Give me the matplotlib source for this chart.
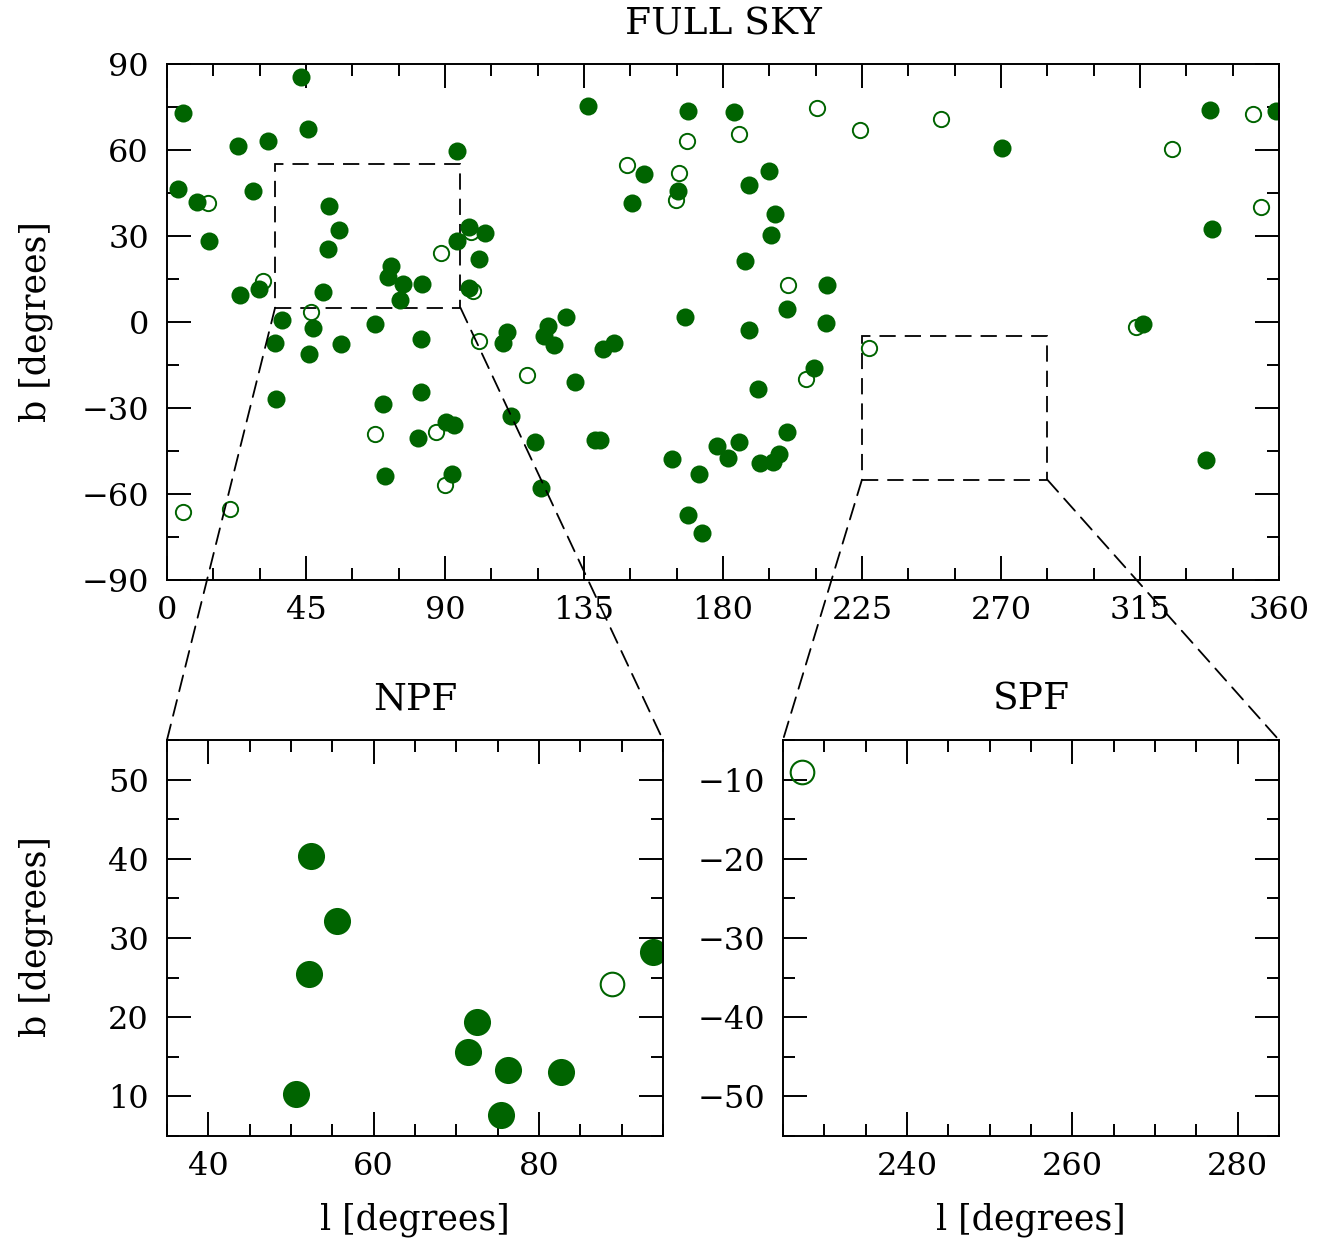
import matplotlib
matplotlib.use("Agg")
import matplotlib.pyplot as plt
from matplotlib.patches import Rectangle, ConnectionPatch
from matplotlib.ticker import MultipleLocator

plt.rcParams['font.family'] = ['DejaVu Serif']

# galactic coordinates of the sources (l, b) in degrees
filled_l = [5.1, 43.5, 45.5, 23.0, 32.7, 93.8, 3.6, 9.6, 27.7, 13.6,
            52.4, 55.6, 52.2, 93.8, 97.7, 102.9, 101.1, 72.5, 71.4, 76.3,
            82.7, 75.4, 50.6, 97.9, 23.6, 29.8, 37.3, 47.3, 67.3, 82.3,
            35.1, 46.1, 56.4, 110.0, 108.9, 35.4, 69.8, 82.2, 81.3, 90.2,
            92.8, 111.3, 119.3, 70.5, 92.4, 121.2, 129.2, 123.5, 122.1, 125.3,
            141.3, 144.7, 167.7, 200.8, 213.3, 188.4, 132.1, 209.5, 191.5, 138.6,
            140.2, 200.8, 163.5, 172.4, 178.2, 185.2, 181.5, 192.0, 196.1, 198.2,
            168.7, 173.2, 136.2, 168.6, 183.6, 154.3, 165.5, 150.6, 195.0, 188.4,
            196.8, 195.7, 187.1, 213.8, 270.5, 337.7, 359.0, 338.3, 315.9, 336.4]
filled_b = [73.0, 85.4, 67.2, 61.4, 63.0, 59.8, 46.5, 42.0, 45.7, 28.4,
            40.3, 32.2, 25.5, 28.2, 33.3, 30.9, 21.9, 19.4, 15.6, 13.3,
            13.1, 7.7, 10.3, 11.8, 9.4, 11.4, 0.7, -2.0, -0.6, -6.0,
            -7.2, -11.2, -7.6, -3.4, -7.2, -27.0, -28.5, -24.4, -40.5, -34.8,
            -35.8, -32.9, -41.8, -53.6, -53.1, -57.8, 1.6, -1.4, -4.9, -8.0,
            -9.5, -7.4, 1.6, 4.4, -0.5, -2.8, -20.8, -15.9, -23.3, -41.2,
            -41.2, -38.3, -47.8, -52.9, -43.3, -41.8, -47.5, -49.3, -48.7, -46.2,
            -67.3, -73.6, 75.3, 73.7, 73.3, 51.6, 45.7, 41.6, 52.8, 47.7,
            37.7, 30.5, 21.4, 12.9, 60.7, 74.1, 73.7, 32.5, -0.6, -48.3]

open_l = [13.2, 88.8, 98.4, 99.0, 31.0, 46.7, 101.1, 116.4, 67.3, 87.0,
          90.0, 5.1, 20.4, 227.3, 207.0, 210.5, 224.3, 168.4, 185.2, 149.0,
          165.9, 164.8, 200.9, 250.7, 351.5, 325.4, 354.1, 313.7]
open_b = [41.6, 24.2, 31.5, 10.9, 14.4, 3.4, -6.7, -18.6, -39.0, -38.5,
          -56.9, -66.2, -65.2, -9.0, -19.8, 74.5, 66.9, 63.1, 65.5, 54.8,
          52.1, 42.6, 13.0, 70.7, 72.5, 60.5, 40.0, -1.9]

# zoomed fields: (l_min, l_max, b_min, b_max)
npf_box = (35, 95, 5, 55)
spf_box = (225, 285, -55, -5)

green = '#006400'

fig = plt.figure(figsize=(13.17, 12.42), dpi=100)
ax = fig.add_axes([0.1268, 0.5330, 0.8443, 0.4155])
ax_n = fig.add_axes([0.1268, 0.0853, 0.3766, 0.3189])
ax_s = fig.add_axes([0.5945, 0.0853, 0.3766, 0.3189])


def style(a, xmaj, xmin, ymaj, ymin):
    a.xaxis.set_major_locator(MultipleLocator(xmaj))
    a.xaxis.set_minor_locator(MultipleLocator(xmin))
    a.yaxis.set_major_locator(MultipleLocator(ymaj))
    a.yaxis.set_minor_locator(MultipleLocator(ymin))
    a.tick_params(which='both', direction='in', top=True, right=True,
                  width=1.4, labelsize=23, colors='black')
    a.tick_params(which='major', length=17)
    a.tick_params(which='minor', length=8.5)
    a.tick_params(axis='x', pad=11)
    a.tick_params(axis='y', pad=13)
    for sp in a.spines.values():
        sp.set_linewidth(1.4)


# full sky
ax.plot(open_l, open_b, 'o', ms=11, mfc='none', mec=green, mew=1.4)
ax.plot(filled_l, filled_b, 'o', ms=13, mfc=green, mec=green, mew=0)
ax.set_xlim(0, 360)
ax.set_ylim(-90, 90)
style(ax, 45, 15, 30, 15)

for box in (npf_box, spf_box):
    ax.add_patch(Rectangle((box[0], box[2]), box[1] - box[0], box[3] - box[2],
                           fill=False, ec='black', lw=1.3, ls=(0, (9, 5))))

# zoom panels
for a, box, xmaj, ymaj in ((ax_n, npf_box, 20, 10), (ax_s, spf_box, 20, 10)):
    a.plot(open_l, open_b, 'o', ms=17, mfc='none', mec=green, mew=1.5)
    a.plot(filled_l, filled_b, 'o', ms=19.5, mfc=green, mec=green, mew=0)
    a.set_xlim(box[0], box[1])
    a.set_ylim(box[2], box[3])
    style(a, xmaj, 5, ymaj, 5)
    # dashed lines from the box corners down to the panel corners
    for lx in (box[0], box[1]):
        con = ConnectionPatch(xyA=(lx, box[2]), coordsA=ax.transData,
                              xyB=(lx, box[3]), coordsB=a.transData,
                              color='black', lw=1.3, ls=(0, (9, 5)))
        fig.add_artist(con)

ax_s.set_xticks([240, 260, 280])

fig.text(0.549, 0.980, 'FULL SKY', ha='center', va='center', fontsize=27)
fig.text(0.3151, 0.4364, 'NPF', ha='center', va='center', fontsize=27)
fig.text(0.7828, 0.4364, 'SPF', ha='center', va='center', fontsize=27)
fig.text(0.027, 0.7407, 'b [degrees]', rotation=90, ha='center', va='center', fontsize=25)
fig.text(0.027, 0.2456, 'b [degrees]', rotation=90, ha='center', va='center', fontsize=25)
fig.text(0.3151, 0.0177, 'l [degrees]', ha='center', va='center', fontsize=25)
fig.text(0.7828, 0.0177, 'l [degrees]', ha='center', va='center', fontsize=25)

fig.savefig('out.png', dpi=100)
